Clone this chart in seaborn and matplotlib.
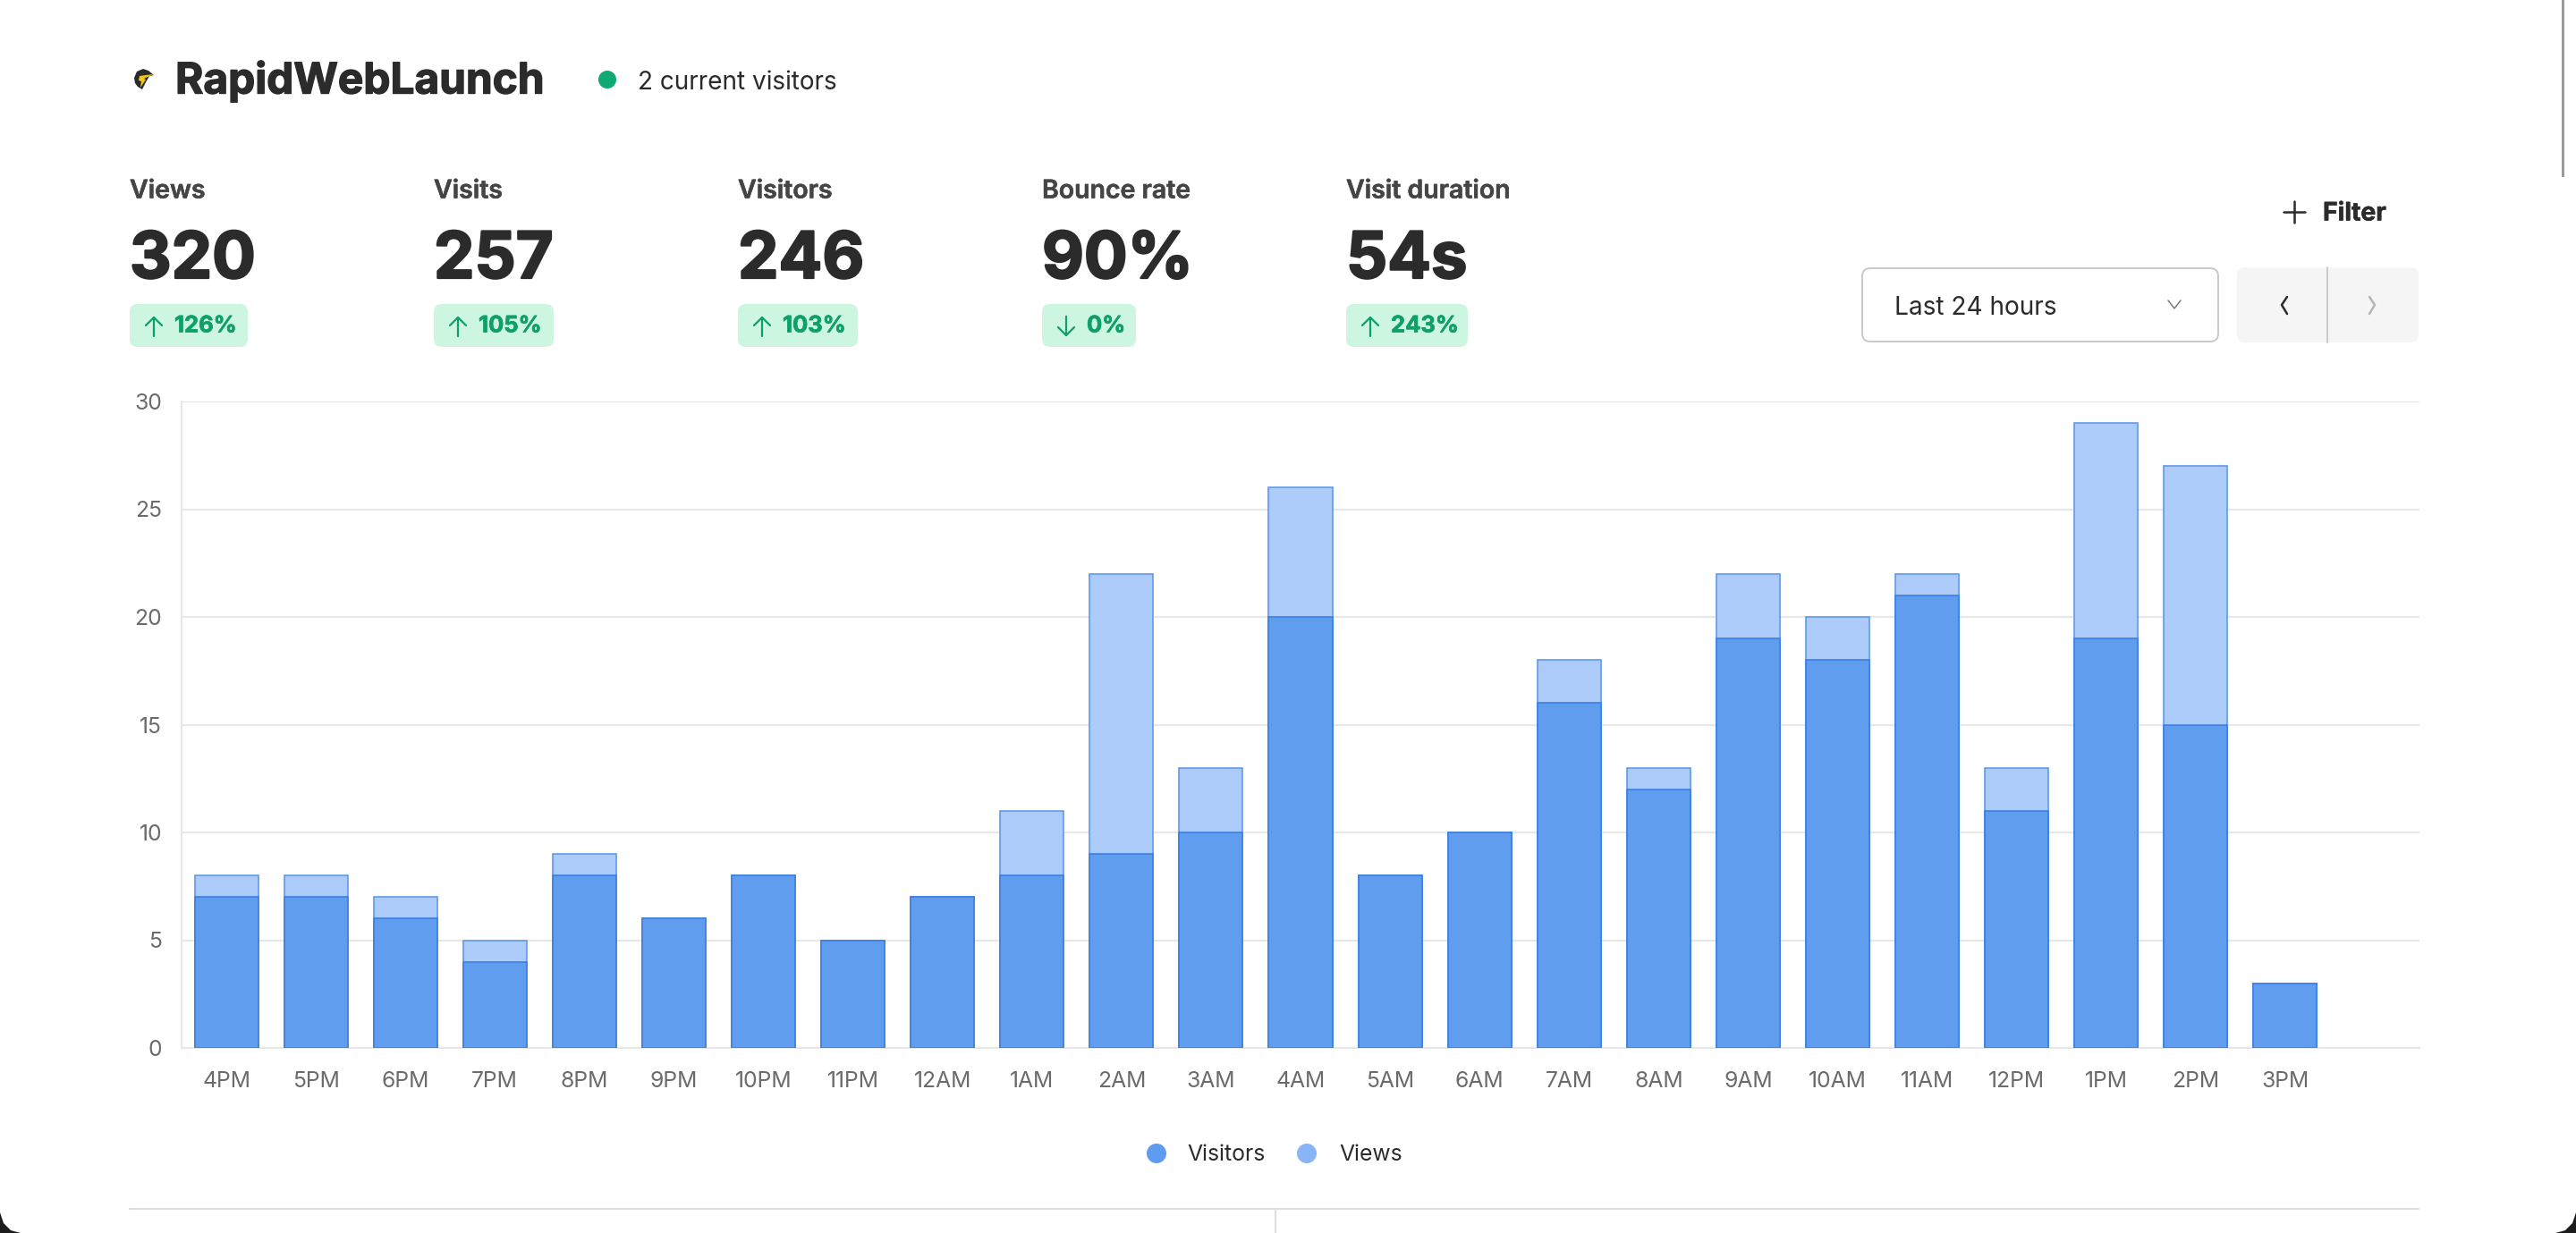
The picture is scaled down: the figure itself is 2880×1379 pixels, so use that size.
import matplotlib
matplotlib.use("Agg")
import matplotlib.pyplot as plt
import matplotlib.patheffects as pe
from matplotlib.patches import Circle, FancyBboxPatch, Polygon, Rectangle
import pandas as pd
import seaborn as sns

hours = ["4PM", "5PM", "6PM", "7PM", "8PM", "9PM", "10PM", "11PM", "12AM", "1AM", "2AM", "3AM",
         "4AM", "5AM", "6AM", "7AM", "8AM", "9AM", "10AM", "11AM", "12PM", "1PM", "2PM", "3PM"]
visitors = [7, 7, 6, 4, 8, 6, 8, 5, 7, 8, 9, 10, 20, 8, 10, 16, 12, 19, 18, 21, 11, 19, 15, 3]
views = [8, 8, 7, 5, 9, 6, 8, 5, 7, 11, 22, 13, 26, 8, 10, 18, 13, 22, 20, 22, 13, 29, 27, 3]

stat_names = ["Views", "Visits", "Visitors", "Bounce rate", "Visit duration"]
stat_values = ["320", "257", "246", "90%", "54s"]
stat_changes = ["126%", "105%", "103%", "0%", "243%"]
stat_up = [True, True, True, False, True]
badge_widths = [132, 134, 134, 105, 136]

FONT = "Inter"
DARK = "#2b2b2b"
GREY = "#6b6b6b"
GRID = "#e8e8e8"
GREEN = "#0f9f68"

sns.set_theme(style="white", rc={"font.family": FONT})
df = pd.DataFrame({"hour": hours, "Visitors": visitors, "Views": views})

fig = plt.figure(figsize=(14.4, 6.895), dpi=200)
ax = fig.add_axes([203 / 2880, 1 - 1172 / 1379, (2705 - 203) / 2880, (1172 - 449) / 1379])

sns.barplot(data=df, x="hour", y="Views", color="#adcbf8", saturation=1, width=0.71,
            edgecolor="#6299ea", linewidth=0.6, ax=ax, zorder=3)
sns.barplot(data=df, x="hour", y="Visitors", color="#609dee", saturation=1, width=0.71,
            edgecolor="#3a7fe2", linewidth=0.6, ax=ax, zorder=4)

# one empty slot is left for the hour still running
ax.set_xlim(-0.5, 24.5)
ax.set_ylim(0, 30)
ax.set_yticks(range(0, 31, 5))
ax.set_xlabel("")
ax.set_ylabel("")
ax.grid(axis="y", color=GRID, linewidth=0.8, zorder=0)
ax.set_axisbelow(True)
sns.despine(ax=ax, top=True, right=True)
for side in ["left", "bottom"]:
    ax.spines[side].set_color(GRID)
    ax.spines[side].set_linewidth(0.8)
ax.tick_params(axis="y", length=5.4, width=0.8, color=GRID, pad=2.5, labelsize=8.9, labelcolor=GREY)
ax.tick_params(axis="x", length=0, pad=9.5, labelsize=8.9, labelcolor=GREY)

# page furniture around the chart, laid out in screenshot pixels
over = fig.add_axes([0, 0, 1, 1], zorder=5)
over.set_xlim(0, 2880)
over.set_ylim(1379, 0)
over.axis("off")
over.patch.set_alpha(0)


def label(x, y, text, size, color=DARK, weight="normal", ha="left", thicken=0.0):
    t = over.text(x, y, text, fontsize=size, color=color, fontweight=weight, ha=ha, va="center", family=FONT)
    if thicken:
        t.set_path_effects([pe.withStroke(linewidth=thicken, foreground=color)])


def stroke(points, color, width=1.0):
    xs, ys = zip(*points)
    over.plot(xs, ys, color=color, linewidth=width, solid_capstyle="round", solid_joinstyle="round")


def round_box(x, y, w, h, radius, face, edge="none", lw=0.0):
    over.add_patch(FancyBboxPatch((x + radius, y + radius), w - 2 * radius, h - 2 * radius,
                                  boxstyle=f"round,pad={radius},rounding_size={radius}",
                                  facecolor=face, edgecolor=edge, linewidth=lw))


# window corners of the screenshot
for cx, sx in [(0, 1), (2880, -1)]:
    over.add_patch(Polygon([(cx, 1356), (cx + sx * 4, 1368), (cx + sx * 12, 1376), (cx + sx * 23, 1379), (cx, 1379)],
                           facecolor="#1c1c1c", edgecolor="none"))

# logo
over.add_patch(Polygon([(150, 87), (153, 80), (160, 77), (166, 79), (172, 84), (167, 85), (163, 92), (159, 100),
                        (154, 97), (151, 93)], facecolor="#2a2a2a", edgecolor="none"))
over.add_patch(Polygon([(156, 85), (163, 84), (172, 83), (165, 86), (161, 88), (163, 89), (157, 98), (158, 91), (155, 90)],
                       facecolor="#f0c419", edgecolor="none"))

label(196, 91, "RapidWebLaunch", 17.2, weight="bold", thicken=0.5)
over.add_patch(Circle((679, 89), 10, facecolor="#10a873", edgecolor="none"))
label(713, 92, "2 current visitors", 10.05)

for i, name in enumerate(stat_names):
    x0 = 145 + i * 340
    label(x0, 214, name, 10.25, color="#454545", weight="semibold", thicken=0.2)
    label(x0, 292, stat_values[i], 26.0, weight="bold", thicken=0.8)
    round_box(x0, 340, badge_widths[i], 48, 9, "#cdf6e1")
    ax_x = x0 + 27
    if stat_up[i]:
        stroke([(ax_x, 355), (ax_x, 376)], GREEN, 0.8)
        stroke([(ax_x - 9, 364), (ax_x, 355), (ax_x + 9, 364)], GREEN, 0.8)
    else:
        stroke([(ax_x, 354), (ax_x, 375)], GREEN, 0.8)
        stroke([(ax_x - 9, 366), (ax_x, 375), (ax_x + 9, 366)], GREEN, 0.8)
    label(x0 + 50, 365, stat_changes[i], 9.2, color=GREEN, weight="bold", thicken=0.25)

# filter and date picker
stroke([(2553, 237), (2577, 237)], DARK, 0.9)
stroke([(2565, 225), (2565, 249)], DARK, 0.9)
label(2597, 239, "Filter", 10.2, weight="bold", thicken=0.2)
round_box(2082, 300, 398, 82, 9, "white", edge="#c9c9c9", lw=0.7)
label(2118, 344, "Last 24 hours", 10.1)
stroke([(2424, 336), (2431, 345), (2438, 336)], "#7a7a7a", 0.55)
round_box(2501, 299, 203, 84, 9, "#f5f5f5")
stroke([(2602, 299), (2602, 383)], "#c9c9c9", 0.7)
stroke([(2557, 332), (2551, 341), (2557, 351)], DARK, 0.9)
stroke([(2649, 332), (2655, 341), (2649, 351)], "#b5b5b5", 0.9)

# legend
over.add_patch(Circle((1293, 1290), 11, facecolor="#5f9bef", edgecolor="none"))
label(1327, 1291, "Visitors", 8.9)
over.add_patch(Circle((1461, 1290), 11, facecolor="#89b5f7", edgecolor="none"))
label(1497, 1291, "Views", 8.9)

# table rules at the bottom
stroke([(145, 1352), (2704, 1352)], "#dedede", 0.8)
stroke([(1426, 1352), (1426, 1379)], "#dedede", 0.8)

# scrollbar thumb
over.add_patch(Rectangle((2864, 0), 2.5, 198, facecolor="#9a9a9a", edgecolor="none"))

fig.savefig("out.png", dpi=200, facecolor="white")
